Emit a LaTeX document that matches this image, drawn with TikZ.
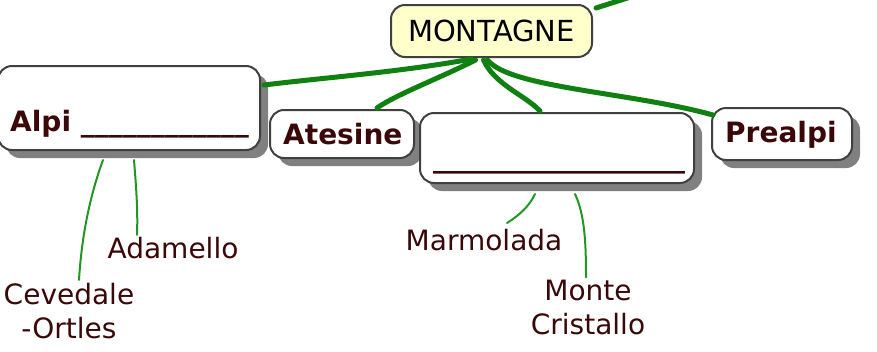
\documentclass[tikz,border=0pt]{standalone}
\usepackage{fontspec}
\setmainfont{DejaVu Sans}
\usetikzlibrary{shadows,calc}
\definecolor{txtbrown}{RGB}{58,8,8}
\definecolor{thickgreen}{RGB}{16,128,16}
\definecolor{thingreen}{RGB}{34,150,34}
\definecolor{boxline}{RGB}{64,64,64}
\definecolor{montfill}{RGB}{255,255,204}
\tikzset{
  box/.style={draw=boxline, line width=2pt, rounded corners=14pt, fill=white,
    inner sep=0pt,
    drop shadow={shadow xshift=8pt, shadow yshift=-8pt, fill=gray, opacity=1}},
  boldtxt/.style={text=txtbrown, font=\fontsize{28}{32}\selectfont\bfseries, inner sep=0pt, anchor=base west},
  leaf/.style={text=txtbrown, font=\fontsize{28}{34}\selectfont, inner sep=0pt, align=center},
  thickcon/.style={draw=thickgreen, line width=5pt, line cap=round},
  thincon/.style={draw=thingreen, line width=2pt, line cap=round},
}
\begin{document}
\begin{tikzpicture}[x=1pt,y=-1pt]
\useasboundingbox (0,0) rectangle (877,351);

\coordinate (offtop) at (640,-6);

\node[box, minimum width=262pt, minimum height=84pt] (alpi) at (129,108) {};
\node[box, minimum width=144pt, minimum height=48pt] (atesine) at (342,134) {};
\node[box, minimum width=274pt, minimum height=70pt] (middle) at (557,148) {};
\node[box, minimum width=140pt, minimum height=52pt] (prealpi) at (782,134) {};
\node[draw=boxline, line width=2pt, rounded corners=14pt, fill=montfill,
      minimum width=201pt, minimum height=52pt, inner sep=0pt,
      font=\fontsize{29}{32}\selectfont] (mont) at (491.5,31) {MONTAGNE};

% connectors from MONTAGNE
\draw[thickcon] ($(mont.south)+(-20,1)$) .. controls (400,72) and (330,77) .. ($(alpi.east)+(3,-23)$);
\draw[thickcon] ($(mont.south)+(-16,2)$) .. controls (440,78) and (395,95) .. ($(atesine.north)+(35,-1)$);
\draw[thickcon] ($(mont.south)+(-8,2)$) .. controls (495,85) and (525,95) .. ($(middle.north)+(-17,-1)$);
\draw[thickcon] ($(mont.south)+(-4,2)$) .. controls (510,88) and (630,92) .. ($(prealpi.west)+(2,-19)$);
\draw[thickcon] ($(mont.north east)+(3,4)$) -- (offtop);

% box texts
\node[boldtxt] (alpitxt) at (10,131) {Alpi \_\_\_\_\_\_\_\_\_\_\_\_};
\node[boldtxt] (atetxt) at (283,144) {Atesine};
\node[boldtxt] (midtxt) at (433,167) {\_\_\_\_\_\_\_\_\_\_\_\_\_\_\_\_\_\_};
\node[boldtxt] (pretxt) at (725,142) {Prealpi};

% leaves
\node[leaf] (adamello) at (173,248) {Adamello};
\node[leaf] (cevedale) at (69,311) {Cevedale\\-Ortles};
\node[leaf] (marmolada) at (484,240) {Marmolada};
\node[leaf] (monte) at (588,307) {Monte\\Cristallo};

\draw[thincon] ($(alpi.south)+(-26,9)$) .. controls (92,190) and (82,230) .. ($(cevedale.north)+(10,-3)$);
\draw[thincon] ($(alpi.south)+(5,9)$) .. controls (136,185) and (138,210) .. ($(adamello.north)+(-36,-2)$);
\draw[thincon] ($(middle.south)+(-22,10)$) .. controls (530,205) and (520,215) .. ($(marmolada.north)+(23,-6)$);
\draw[thincon] ($(middle.south)+(18,10)$) .. controls (585,215) and (586,245) .. ($(monte.north)+(-2,-2)$);
\end{tikzpicture}
\end{document}
